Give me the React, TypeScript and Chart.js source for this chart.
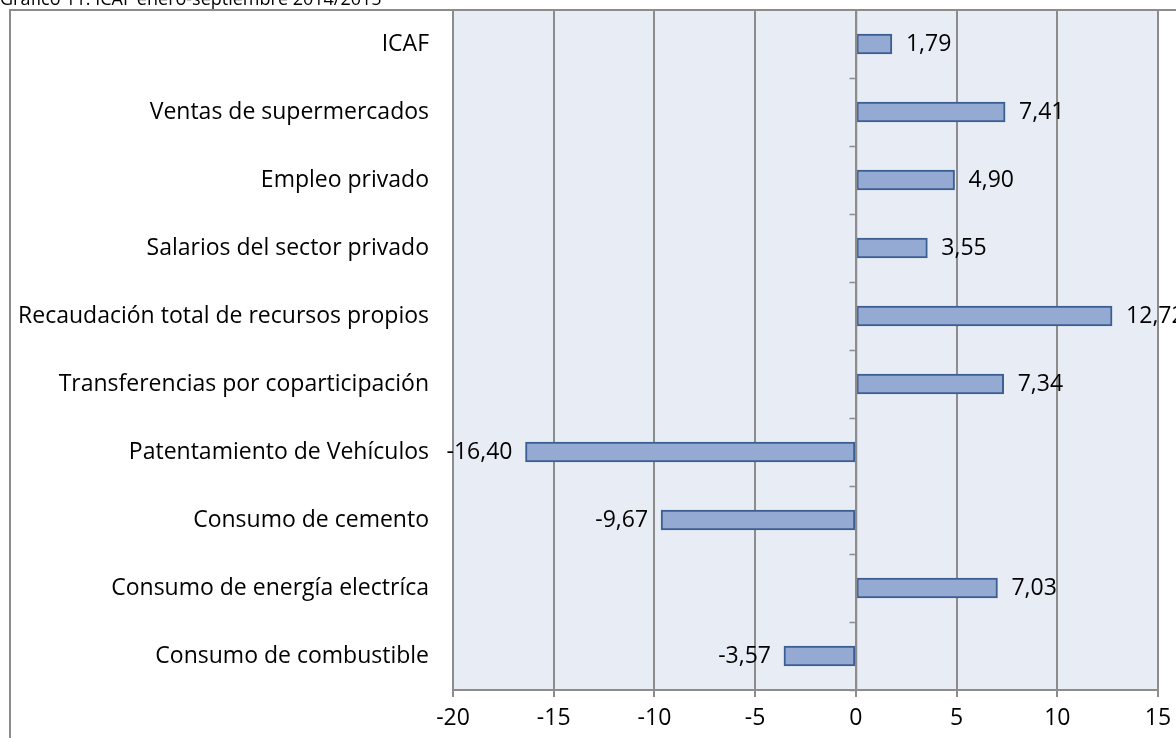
import React, { useEffect, useRef } from "react";
import { Chart, registerables } from "chart.js";

Chart.register(...registerables);

const categories = [
  "ICAF",
  "Ventas de supermercados",
  "Empleo privado",
  "Salarios del sector privado",
  "Recaudación total de recursos propios",
  "Transferencias por coparticipación",
  "Patentamiento de Vehículos",
  "Consumo de cemento",
  "Consumo de energía electríca",
  "Consumo de combustible",
];
const values = [1.79, 7.41, 4.9, 3.55, 12.72, 7.34, -16.4, -9.67, 7.03, -3.57];
const xTicks = [-20, -15, -10, -5, 0, 5, 10, 15];
const title = "Grafico 11: ICAF enero-septiembre 2014/2015";

const FONT = "'Open Sans', 'Noto Sans', sans-serif";

export default function App() {
  const ref = useRef<HTMLCanvasElement | null>(null);
  useEffect(() => {
    document.body.style.margin = "0";
    const canvas = ref.current!;
    const decor = {
      id: "decor",
      beforeDraw(chart: any) {
        const { ctx, chartArea } = chart;
        ctx.save();
        ctx.fillStyle = "#ffffff";
        ctx.fillRect(0, 0, chart.width, chart.height);
        ctx.fillStyle = "#E8ECF5";
        ctx.fillRect(chartArea.left, chartArea.top, chartArea.right - chartArea.left, chartArea.bottom - chartArea.top);
        ctx.strokeStyle = "#8c8c8c";
        ctx.lineWidth = 2;
        ctx.strokeRect(10, 10, 1400, 1000);
        ctx.fillStyle = "#000";
        ctx.font = "18px " + FONT;
        ctx.textBaseline = "alphabetic";
        ctx.textAlign = "left";
        ctx.fillText(title, 0, 5);
        ctx.restore();
      },
      afterDatasetsDraw(chart: any) {
        const { ctx, chartArea, scales } = chart;
        const x = scales.x;
        const y = scales.y;
        const x0 = Math.round(x.getPixelForValue(0)) + 0.5;
        const step = y.getPixelForValue(1) - y.getPixelForValue(0);
        ctx.save();
        ctx.strokeStyle = "#8c8c8c";
        ctx.lineWidth = 1.5;
        ctx.beginPath();
        ctx.moveTo(x0, chartArea.top);
        ctx.lineTo(x0, chartArea.bottom);
        for (let i = 1; i <= categories.length; i++) {
          const py = Math.round(y.getPixelForValue(i) - step / 2) + 0.5;
          ctx.moveTo(x0 - 7, py);
          ctx.lineTo(x0, py);
        }
        ctx.stroke();
        // x axis line and ticks
        ctx.lineWidth = 2;
        ctx.beginPath();
        ctx.moveTo(chartArea.left, chartArea.bottom);
        ctx.lineTo(chartArea.right, chartArea.bottom);
        for (const t of xTicks) {
          const px = Math.round(x.getPixelForValue(t));
          ctx.moveTo(px, chartArea.bottom);
          ctx.lineTo(px, chartArea.bottom + 7);
        }
        ctx.stroke();
        // value labels
        ctx.fillStyle = "#000";
        ctx.font = "23px " + FONT;
        ctx.textBaseline = "middle";
        values.forEach((v, i) => {
          const px = x.getPixelForValue(v);
          const py = y.getPixelForValue(i);
          const txt = v.toFixed(2).replace(".", ",");
          if (v >= 0) {
            ctx.textAlign = "left";
            ctx.fillText(txt, px + 14, py);
          } else {
            ctx.textAlign = "right";
            ctx.fillText(txt, px - 13, py);
          }
        });
        ctx.restore();
      },
    };
    const chart = new Chart(canvas, {
      type: "bar",
      data: {
        labels: categories,
        datasets: [
          {
            data: values,
            backgroundColor: "#95AAD3",
            borderColor: "#3B5F92",
            borderWidth: 2,
            borderSkipped: false,
            barThickness: 20,
          },
        ],
      },
      options: {
        indexAxis: "y",
        animation: false,
        responsive: false,
        maintainAspectRatio: false,
        layout: { padding: { top: 10, right: 18, left: 0, bottom: 0 } },
        plugins: { legend: { display: false }, tooltip: { enabled: false }, title: { display: false } },
        scales: {
          x: {
            min: -20,
            max: 15,
            afterBuildTicks: (s: any) => {
              s.ticks = xTicks.map((v) => ({ value: v }));
            },
            afterFit: (s: any) => {
              s.height = 48;
              s.paddingLeft = 0;
              s.paddingRight = 0;
            },
            grid: { color: "#8c8c8c", lineWidth: 2, drawTicks: false },
            border: { display: false },
            ticks: {
              color: "#000",
              font: { family: FONT, size: 23 },
              padding: 15,
              maxRotation: 0,
            },
          },
          y: {
            afterFit: (s: any) => {
              s.width = 453;
              s.paddingTop = 0;
              s.paddingBottom = 0;
            },
            grid: { display: false, drawTicks: false },
            border: { display: false },
            ticks: {
              color: "#000",
              font: { family: FONT, size: 23 },
              padding: 24,
            },
          },
        },
      },
      plugins: [decor],
    });
    return () => chart.destroy();
  }, []);
  return (
    <div style={{ position: "absolute", left: 0, top: 0, width: 1176, height: 738 }}>
      <canvas ref={ref} width={1176} height={738} style={{ width: 1176, height: 738, display: "block" }} />
    </div>
  );
}
